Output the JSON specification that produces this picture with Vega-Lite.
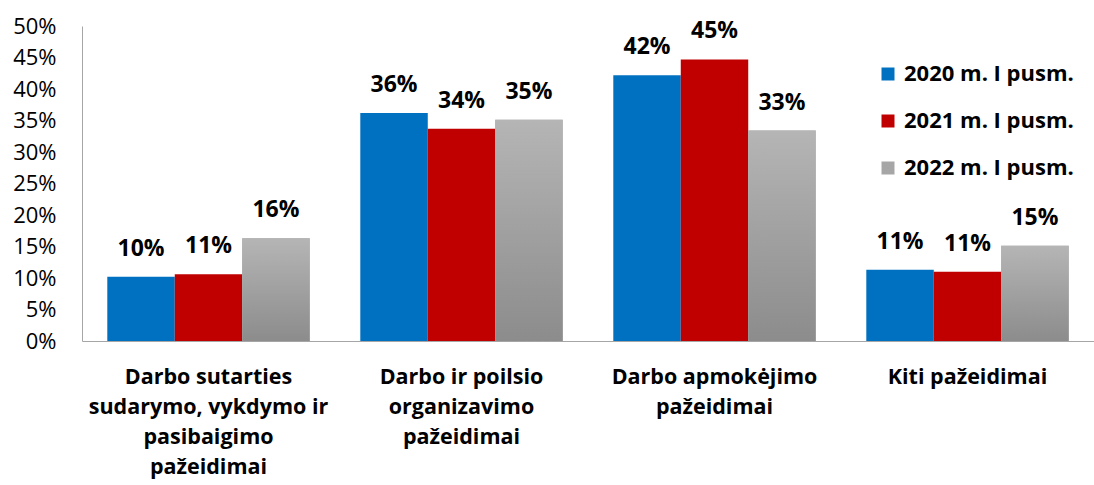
{
  "$schema": "https://vega.github.io/schema/vega-lite/v6.json",
  "autosize": "none",
  "padding": {"left": 82, "top": 26, "right": 0, "bottom": 144},
  "width": 1012,
  "height": 315,
  "background": "white",
  "config": {
    "view": {"stroke": null},
    "font": "Open Sans",
    "axis": {"labelColor": "black", "domainColor": "#A6A6A6", "grid": false, "ticks": false}
  },
  "data": {"values": [
    {"cat": "Darbo sutarties|sudarymo, vykdymo ir|pasibaigimo|pažeidimai", "series": "2020 m. I pusm.", "value": 0.102},
    {"cat": "Darbo sutarties|sudarymo, vykdymo ir|pasibaigimo|pažeidimai", "series": "2021 m. I pusm.", "value": 0.106},
    {"cat": "Darbo sutarties|sudarymo, vykdymo ir|pasibaigimo|pažeidimai", "series": "2022 m. I pusm.", "value": 0.163},
    {"cat": "Darbo ir poilsio|organizavimo|pažeidimai", "series": "2020 m. I pusm.", "value": 0.362},
    {"cat": "Darbo ir poilsio|organizavimo|pažeidimai", "series": "2021 m. I pusm.", "value": 0.337},
    {"cat": "Darbo ir poilsio|organizavimo|pažeidimai", "series": "2022 m. I pusm.", "value": 0.351},
    {"cat": "Darbo apmokėjimo|pažeidimai", "series": "2020 m. I pusm.", "value": 0.422},
    {"cat": "Darbo apmokėjimo|pažeidimai", "series": "2021 m. I pusm.", "value": 0.447},
    {"cat": "Darbo apmokėjimo|pažeidimai", "series": "2022 m. I pusm.", "value": 0.334},
    {"cat": "Kiti pažeidimai", "series": "2020 m. I pusm.", "value": 0.113},
    {"cat": "Kiti pažeidimai", "series": "2021 m. I pusm.", "value": 0.110},
    {"cat": "Kiti pažeidimai", "series": "2022 m. I pusm.", "value": 0.151}
  ]},
  "encoding": {
    "x": {"field": "cat", "type": "nominal", "sort": null,
      "scale": {"paddingInner": 0.2, "paddingOuter": 0.1},
      "axis": {"title": null, "labelAngle": 0, "labelExpr": "split(datum.label, '|')", "labelFontSize": 21.5, "labelFontWeight": "bold", "labelLineHeight": 30, "labelPadding": 25, "labelBaseline": "top", "labelLimit": 300}},
    "xOffset": {"field": "series", "type": "nominal", "scale": {"domain": ["2020 m. I pusm.", "2021 m. I pusm.", "2022 m. I pusm."], "paddingInner": 0, "paddingOuter": 0}},
    "y": {"field": "value", "type": "quantitative",
      "scale": {"domain": [0, 0.5]},
      "axis": {"title": null, "format": ".0%", "values": [0,0.05,0.1,0.15,0.2,0.25,0.3,0.35,0.4,0.45,0.5], "labelOverlap": false, "labelFontSize": 22, "labelPadding": 26}}
  },
  "layer": [
    {
      "mark": {"type": "bar"},
      "encoding": {
        "color": {"field": "series", "type": "nominal",
          "scale": {"domain": ["2020 m. I pusm.", "2021 m. I pusm.", "2022 m. I pusm."], "range": ["#0070C0", "#C00000", "#A6A6A6"]},
          "legend": {"title": null, "orient": "none", "legendX": 795, "legendY": 37, "symbolType": "square", "symbolSize": 169, "symbolStrokeWidth": 0, "labelFontSize": 22, "labelFontWeight": "bold", "labelColor": "black", "rowPadding": 25, "labelOffset": 5, "labelLimit": 300}}
      }
    },
    {
      "transform": [{"filter": "datum.series === '2022 m. I pusm.'"}],
      "mark": {"type": "bar", "color": {"gradient": "linear", "x1": 0, "y1": 0, "x2": 0, "y2": 1, "stops": [{"offset": 0, "color": "#B5B5B5"}, {"offset": 1, "color": "#8C8C8C"}]}},
      "encoding": {}
    },
    {
      "mark": {"type": "text", "fontSize": 23, "fontWeight": "bold", "baseline": "middle", "dy": -28, "color": "black"},
      "encoding": {"text": {"field": "value", "type": "quantitative", "format": ".0%"}}
    }
  ]
}
